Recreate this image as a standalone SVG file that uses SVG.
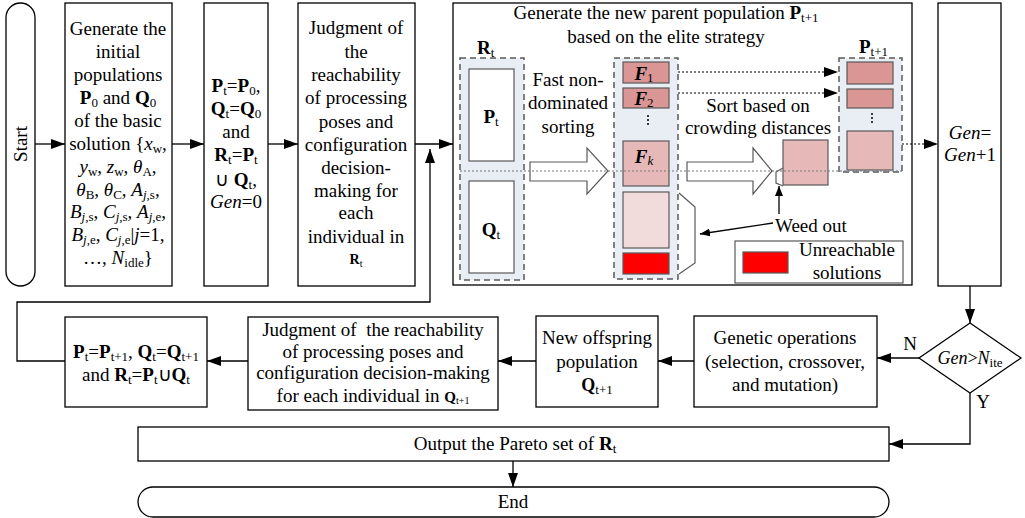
<svg xmlns="http://www.w3.org/2000/svg" width="1025" height="518" viewBox="0 0 1025 518">
<defs>
<style>
.box{fill:#fff;stroke:#000;stroke-width:1.3}
.in{stroke:#595959;stroke-width:1.2}
.dash{fill:#e9edf4;stroke:#595959;stroke-width:1.5;stroke-dasharray:6,4}
.t{font-family:"Liberation Serif","Times New Roman",serif;font-size:19px;fill:#000}
.c{text-anchor:middle}
.b{font-weight:bold}
.i{font-style:italic}
.s{font-size:13px;font-weight:normal;font-style:normal}
.si{font-size:13px;font-weight:normal;font-style:italic}
.conn{fill:none;stroke:#000;stroke-width:1.3}
.dot{fill:none;stroke:#000;stroke-width:1.2;stroke-dasharray:2,2}
.gdot{fill:none;stroke:#777;stroke-width:1.2;stroke-dasharray:2,2}
.hollow{fill:#fff;stroke:#595959;stroke-width:1.2}
.r1{fill:#d99694}
.r2{fill:#e6b9b8}
.r3{fill:#f2dcdb}
.red{fill:#ff0000}
</style>
<marker id="ah" markerUnits="userSpaceOnUse" viewBox="0 0 14 10" refX="14" refY="5" markerWidth="14" markerHeight="10" orient="auto">
<path d="M0,0 L14,5 L0,10 z" fill="#000"/>
</marker>
<marker id="ahs" markerUnits="userSpaceOnUse" viewBox="0 0 10 8" refX="10" refY="4" markerWidth="10" markerHeight="8" orient="auto">
<path d="M0,0 L10,4 L0,8 z" fill="#000"/>
</marker>
</defs>
<rect width="1025" height="518" fill="#fff"/>

<g id="start">
<rect class="box" x="6" y="3" width="29" height="283" rx="14.5"/>
<text class="t c" transform="translate(27,144) rotate(-90)">Start</text>
</g>

<g id="init">
<rect class="box" x="65" y="3" width="107" height="283"/>
<text class="t c" x="118" y="35">Generate the</text>
<text class="t c" x="118" y="58">initial</text>
<text class="t c" x="118" y="81">populations</text>
<text class="t c" x="118" y="104"><tspan class="b">P</tspan><tspan class="s" dy="3">0</tspan><tspan dy="-3"> and </tspan><tspan class="b">Q</tspan><tspan class="s" dy="3">0</tspan></text>
<text class="t c" x="118" y="127">of the basic</text>
<text class="t c" x="118" y="150">solution {<tspan class="i">x</tspan><tspan class="s" dy="3">w</tspan><tspan dy="-3">,</tspan></text>
<text class="t c" x="118" y="173"><tspan class="i">y</tspan><tspan class="s" dy="3">w</tspan><tspan dy="-3">, </tspan><tspan class="i">z</tspan><tspan class="s" dy="3">w</tspan><tspan dy="-3">, </tspan><tspan class="i">θ</tspan><tspan class="s" dy="3">A</tspan><tspan dy="-3">,</tspan></text>
<text class="t c" x="118" y="196"><tspan class="i">θ</tspan><tspan class="s" dy="3">B</tspan><tspan dy="-3">, </tspan><tspan class="i">θ</tspan><tspan class="s" dy="3">C</tspan><tspan dy="-3">, </tspan><tspan class="i">A</tspan><tspan class="si" dy="3">j</tspan><tspan class="s">,s</tspan><tspan dy="-3">,</tspan></text>
<text class="t c" x="118" y="218"><tspan class="i">B</tspan><tspan class="si" dy="3">j</tspan><tspan class="s">,s</tspan><tspan dy="-3">, </tspan><tspan class="i">C</tspan><tspan class="si" dy="3">j</tspan><tspan class="s">,s</tspan><tspan dy="-3">, </tspan><tspan class="i">A</tspan><tspan class="si" dy="3">j</tspan><tspan class="s">,e</tspan><tspan dy="-3">,</tspan></text>
<text class="t c" x="118" y="241"><tspan class="i">B</tspan><tspan class="si" dy="3">j</tspan><tspan class="s">,e</tspan><tspan dy="-3">, </tspan><tspan class="i">C</tspan><tspan class="si" dy="3">j</tspan><tspan class="s">,e</tspan><tspan dy="-3">|</tspan><tspan class="i">j</tspan><tspan>=1,</tspan></text>
<text class="t c" x="118" y="264">…, <tspan class="i">N</tspan><tspan class="s" dy="3">idle</tspan><tspan dy="-3">}</tspan></text>
</g>

<g id="assign">
<rect class="box" x="204" y="3" width="64" height="283"/>
<text class="t c" x="236" y="92"><tspan class="b">P</tspan><tspan class="s" dy="3">t</tspan><tspan dy="-3">=</tspan><tspan class="b">P</tspan><tspan class="s" dy="3">0</tspan><tspan dy="-3">,</tspan></text>
<text class="t c" x="236" y="115"><tspan class="b">Q</tspan><tspan class="s" dy="3">t</tspan><tspan dy="-3">=</tspan><tspan class="b">Q</tspan><tspan class="s" dy="3">0</tspan></text>
<text class="t c" x="236" y="138">and</text>
<text class="t c" x="236" y="161"><tspan class="b">R</tspan><tspan class="s" dy="3">t</tspan><tspan dy="-3">=</tspan><tspan class="b">P</tspan><tspan class="s" dy="3">t</tspan></text>
<text class="t c" x="236" y="186">∪ <tspan class="b">Q</tspan><tspan class="s" dy="3">t</tspan><tspan dy="-3">,</tspan></text>
<text class="t c" x="236" y="208"><tspan class="i">Gen</tspan>=0</text>
</g>

<g id="judge1">
<rect class="box" x="298" y="3" width="117" height="283"/>
<text class="t c" x="356" y="34">Judgment of</text>
<text class="t c" x="356" y="58">the</text>
<text class="t c" x="356" y="81">reachability</text>
<text class="t c" x="356" y="104">of processing</text>
<text class="t c" x="356" y="128">poses and</text>
<text class="t c" x="356" y="151">configuration</text>
<text class="t c" x="356" y="174">decision-</text>
<text class="t c" x="356" y="197">making for</text>
<text class="t c" x="356" y="219">each</text>
<text class="t c" x="356" y="243">individual in</text>
<text class="t c" x="356" y="264" style="font-size:14px"><tspan class="b">R</tspan><tspan style="font-size:10px" dy="3">t</tspan></text>
</g>

<g id="elite">
<rect class="box" x="453" y="3" width="459" height="282"/>
<text class="t c" x="666" y="19">Generate the new parent population <tspan class="b">P</tspan><tspan class="s" dy="3">t+1</tspan></text>
<text class="t c" x="666" y="43">based on the elite strategy</text>
<text class="t" x="477" y="54"><tspan class="b">R</tspan><tspan class="s" dy="3">t</tspan></text>
<rect class="dash" x="460" y="58" width="64" height="222"/>
<rect class="box in" x="469" y="69" width="45" height="92"/>
<rect class="box in" x="469" y="181" width="45" height="92"/>
<text class="t c" x="491" y="123"><tspan class="b">P</tspan><tspan class="s" dy="3">t</tspan></text>
<text class="t c" x="491" y="236"><tspan class="b">Q</tspan><tspan class="s" dy="3">t</tspan></text>
<text class="t c" x="568" y="86">Fast non-</text>
<text class="t c" x="568" y="109">dominated</text>
<text class="t c" x="568" y="133">sorting</text>
<polygon class="hollow" points="530,162 587,162 587,148 608,171 587,194 587,181 530,181"/>
<rect class="dash" x="614" y="58" width="64" height="221"/>
<rect class="r1 in" x="623" y="62" width="46" height="21"/>
<rect class="r1 in" x="623" y="88" width="46" height="20"/>
<line x1="648" y1="115" x2="648" y2="127" stroke="#000" stroke-width="1.5" stroke-dasharray="2,2"/>
<rect class="r2 in" x="623" y="141" width="46" height="45"/>
<rect class="r3 in" x="623" y="192" width="46" height="56"/>
<rect class="red in" x="623" y="253" width="46" height="21"/>
<text class="t c b i" x="644" y="80">F<tspan class="s" dy="2">1</tspan></text>
<text class="t c b i" x="644" y="105">F<tspan class="s" dy="2">2</tspan></text>
<text class="t c b i" x="644" y="163">F<tspan class="si" dy="2">k</tspan></text>
<polyline fill="none" class="in" points="679,193 695,207 695,263 679,274"/>
<text class="t c" x="758" y="112">Sort based on</text>
<text class="t c" x="758" y="134">crowding distances</text>
<polygon class="hollow" points="687,162 753,162 753,148 772,171 753,194 753,181 687,181"/>
<polyline fill="none" class="in" points="783,168 776,172 776,183 783,186"/>
<rect class="r2 in" x="783" y="140" width="45" height="45"/>
<text class="t" x="859" y="53"><tspan class="b">P</tspan><tspan class="s" dy="3">t+1</tspan></text>
<rect class="dash" x="839" y="58" width="63" height="114"/>
<rect class="r1 in" x="847" y="62" width="46" height="22"/>
<rect class="r1 in" x="847" y="89" width="46" height="19"/>
<line x1="872" y1="113" x2="872" y2="125" stroke="#000" stroke-width="1.5" stroke-dasharray="2,2"/>
<rect class="r2 in" x="847" y="131" width="46" height="39"/>
<line class="gdot" x1="460" y1="171" x2="902" y2="171"/>
<text class="t" x="775" y="232">Weed out</text>
<rect class="box in" x="735" y="241" width="168" height="42"/>
<rect class="red in" x="743" y="252" width="45" height="21"/>
<text class="t c" x="847" y="256">Unreachable</text>
<text class="t c" x="847" y="279">solutions</text>
</g>

<g id="gen">
<rect class="box" x="938" y="3" width="63" height="283"/>
<text class="t c" x="970" y="139"><tspan class="i">Gen</tspan>=</text>
<text class="t c" x="970" y="161"><tspan class="i">Gen</tspan>+1</text>
</g>

<g id="decision">
<polygon class="box" points="970,323 1021,358 970,393 919,358"/>
<text class="t c" x="970" y="364" style="font-size:18px"><tspan class="i">Gen</tspan>&gt;<tspan class="i">N</tspan><tspan class="s" dy="3">ite</tspan></text>
<text class="t c" x="910" y="350">N</text>
<text class="t c" x="983" y="408">Y</text>
</g>

<g id="genetic">
<rect class="box" x="694" y="316" width="183" height="91"/>
<text class="t c" x="785" y="344">Genetic operations</text>
<text class="t c" x="785" y="368">(selection, crossover,</text>
<text class="t c" x="785" y="391">and mutation)</text>
</g>

<g id="offspring">
<rect class="box" x="536" y="316" width="122" height="91"/>
<text class="t c" x="597" y="344">New offspring</text>
<text class="t c" x="597" y="368">population</text>
<text class="t c" x="597" y="391" style="font-size:18px"><tspan class="b">Q</tspan><tspan class="s" dy="3">t+1</tspan></text>
</g>

<g id="judge2">
<rect class="box" x="248" y="317" width="250" height="93"/>
<text class="t c" x="373" y="336">Judgment of&#160; the reachability</text>
<text class="t c" x="373" y="358">of processing poses and</text>
<text class="t c" x="373" y="379">configuration decision-making</text>
<text class="t c" x="373" y="402">for each individual in <tspan class="b" style="font-size:15px">Q</tspan><tspan style="font-size:10px" dy="2">t+1</tspan></text>
</g>

<g id="update">
<rect class="box" x="65" y="317" width="142" height="90"/>
<text class="t c" x="136" y="358"><tspan class="b">P</tspan><tspan class="s" dy="3">t</tspan><tspan dy="-3">=</tspan><tspan class="b">P</tspan><tspan class="s" dy="3">t+1</tspan><tspan dy="-3">, </tspan><tspan class="b">Q</tspan><tspan class="s" dy="3">t</tspan><tspan dy="-3">=</tspan><tspan class="b">Q</tspan><tspan class="s" dy="3">t+1</tspan></text>
<text class="t c" x="136" y="381">and <tspan class="b">R</tspan><tspan class="s" dy="3">t</tspan><tspan dy="-3">=</tspan><tspan class="b">P</tspan><tspan class="s" dy="3">t</tspan><tspan dy="-3">∪</tspan><tspan class="b">Q</tspan><tspan class="s" dy="3">t</tspan></text>
</g>

<g id="output">
<rect class="box" x="138" y="427" width="751" height="34"/>
<text class="t c" x="515" y="450">Output the Pareto set of <tspan class="b">R</tspan><tspan class="s" dy="3">t</tspan></text>
</g>

<g id="end">
<rect class="box" x="138" y="487" width="751" height="30" rx="15"/>
<text class="t c" x="513" y="508">End</text>
</g>

<g id="connectors">
<path class="conn" d="M35,144 H65" marker-end="url(#ah)"/>
<path class="conn" d="M172,144 H204" marker-end="url(#ah)"/>
<path class="conn" d="M268,144 H298" marker-end="url(#ah)"/>
<path class="conn" d="M415,144 H453" marker-end="url(#ah)"/>
<path class="conn" d="M65,361 H17 V302 H430 V149" marker-end="url(#ah)"/>
<path class="dot" d="M678,72 H838" marker-end="url(#ah)"/>
<path class="dot" d="M678,93 H838" marker-end="url(#ah)"/>
<path class="dot" d="M902,144 H938" marker-end="url(#ah)"/>
<path class="conn" d="M773,223 L700,234" stroke-width="1" marker-end="url(#ahs)"/>
<path class="conn" d="M779,214 V186" stroke-width="1" marker-end="url(#ahs)"/>
<path class="conn" d="M970,286 V323" marker-end="url(#ah)"/>
<path class="conn" d="M919,358 H877" marker-end="url(#ah)"/>
<path class="conn" d="M694,361 H658" marker-end="url(#ah)"/>
<path class="conn" d="M536,361 H498" marker-end="url(#ah)"/>
<path class="conn" d="M248,361 H207" marker-end="url(#ah)"/>
<path class="conn" d="M970,393 V444 H889" marker-end="url(#ah)"/>
<path class="conn" d="M513,461 V487" marker-end="url(#ah)"/>
</g>
</svg>
